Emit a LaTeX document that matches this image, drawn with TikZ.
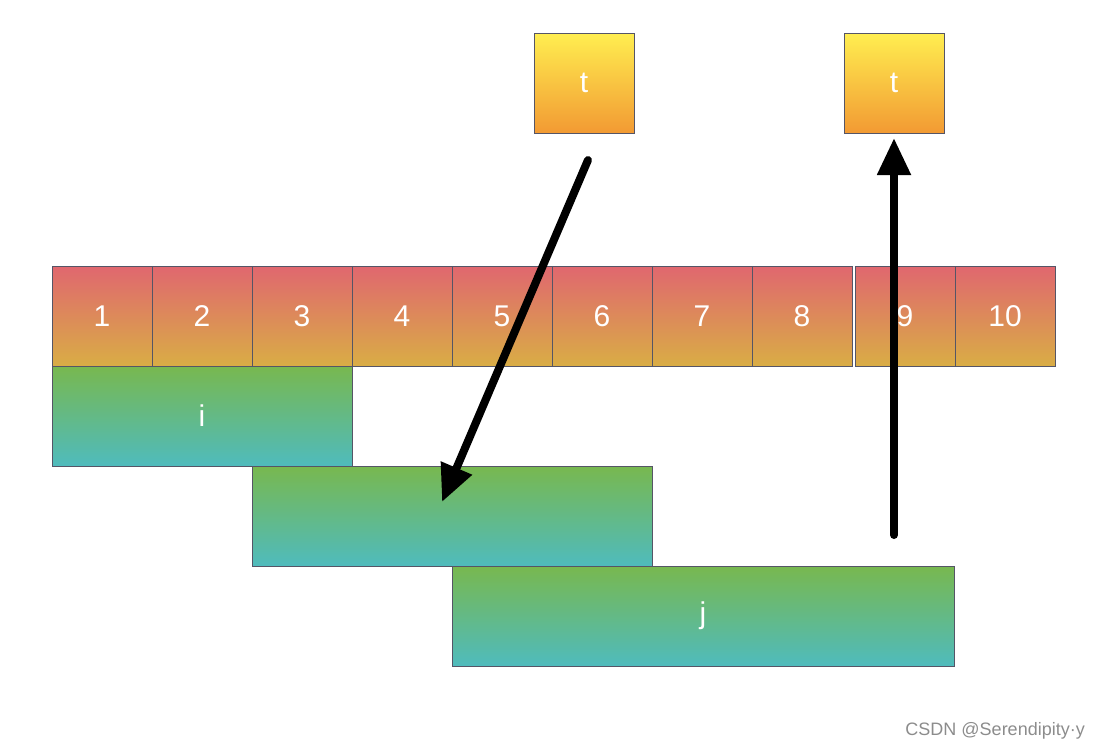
\documentclass[tikz,border=0pt]{standalone}
\usepackage{fontspec}
\setmainfont{Liberation Sans}
\usetikzlibrary{arrows.meta}
\definecolor{cellTop}{HTML}{E0676F}
\definecolor{cellBot}{HTML}{D9AD45}
\definecolor{tTop}{HTML}{FFEE50}
\definecolor{tBot}{HTML}{F29A33}
\definecolor{gTop}{HTML}{78B84F}
\definecolor{gBot}{HTML}{4FBBBD}
\definecolor{edgeC}{HTML}{555566}
\definecolor{wmark}{HTML}{8C8C8C}
\tikzset{
  box/.style={draw=edgeC, line width=1pt, inner sep=0pt, outer sep=0pt,
    text=white, font=\fontsize{30}{32}\selectfont, anchor=north west},
  cellbox/.style={box, top color=cellTop, bottom color=cellBot,
    minimum width=100pt, minimum height=100pt},
  tbox/.style={box, top color=tTop, bottom color=tBot,
    minimum width=100pt, minimum height=100pt},
  gbox/.style={box, top color=gTop, bottom color=gBot, minimum height=100pt},
  bigarrow/.style={line width=8pt, -{Triangle[length=37pt, width=32pt]}, black}
}
\begin{document}
\begin{tikzpicture}[x=1pt, y=-1pt]
\useasboundingbox (0,0) rectangle (1100,748);
% top t boxes
\node[tbox] (t1) at (534,33) {t};
\node[tbox] (t2) at (844,33) {t};
% row of cells
\node[cellbox] (c1) at (52,266) {1};
\node[cellbox] (c2) at (152,266) {2};
\node[cellbox] (c3) at (252,266) {3};
\node[cellbox] (c4) at (352,266) {4};
\node[cellbox] (c5) at (452,266) {5};
\node[cellbox] (c6) at (552,266) {6};
\node[cellbox] (c7) at (652,266) {7};
\node[cellbox] (c8) at (752,266) {8};
\node[cellbox] (c9) at (855,266) {9};
\node[cellbox] (c10) at (955,266) {10};
% green bars
\node[gbox, minimum width=300pt] (bi) at (52,366) {i};
\node[gbox, minimum width=400pt] (bm) at (252,466) {};
\node[gbox, minimum width=502pt] (bj) at (452,566) {j};
% arrows
\coordinate (a1s) at (588,160);
\coordinate (a1e) at (442,502);
\coordinate (a2s) at (894,535);
\coordinate (a2e) at (894,138);
\draw[bigarrow, line cap=round] (a1s) -- (a1e);
\draw[bigarrow, line cap=round] (a2s) -- (a2e);
% watermark
\node[anchor=base east, text=wmark, font=\fontsize{18}{20}\selectfont, inner sep=0pt] (wm) at (1085,735) {CSDN @Serendipity·y};
\end{tikzpicture}
\end{document}
